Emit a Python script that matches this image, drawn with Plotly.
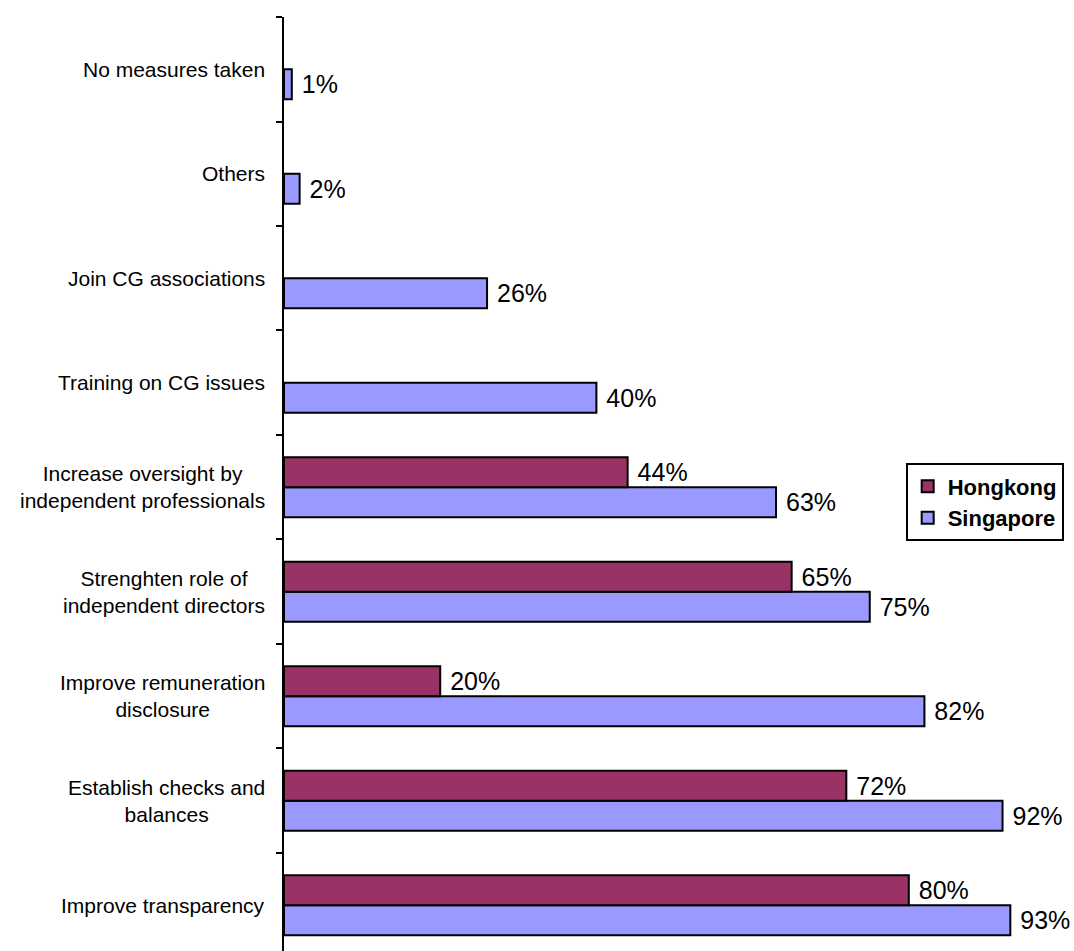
import plotly.graph_objects as go

# Measures taken to improve corporate governance (% of respondents)
categories = [
    "Improve transparency",
    "Establish checks and<br>balances",
    "Improve remuneration<br>disclosure",
    "Strenghten role of<br>independent directors",
    "Increase oversight by<br>independent professionals",
    "Training on CG issues",
    "Join CG associations",
    "Others",
    "No measures taken",
]
hongkong = [80, 72, 20, 65, 44, None, None, None, None]
singapore = [93, 92, 82, 75, 63, 40, 26, 2, 1]

FONT = "Arial, 'Liberation Sans', sans-serif"
HK_COLOR = "#993366"
SG_COLOR = "#9999FF"

fig = go.Figure()

# Singapore added first so it sits in the lower slot of each group
fig.add_trace(go.Bar(
    name="Singapore", y=categories, x=singapore, orientation="h",
    marker=dict(color=SG_COLOR, line=dict(color="black", width=2)),
    text=singapore, texttemplate=" %{x}%", textposition="outside",
    textfont=dict(family=FONT, size=25, color="black"),
    cliponaxis=False, constraintext="none", legendrank=2,
))
fig.add_trace(go.Bar(
    name="Hongkong", y=categories, x=hongkong, orientation="h",
    marker=dict(color=HK_COLOR, line=dict(color="black", width=2)),
    text=hongkong, texttemplate=" %{x}%", textposition="outside",
    textfont=dict(family=FONT, size=25, color="black"),
    cliponaxis=False, constraintext="none", legendrank=1,
))

# Category labels, centred line by line, to the left of the axis
for cat in categories:
    fig.add_annotation(
        x=0, xref="paper", y=cat, yref="y", text=cat,
        xanchor="right", yanchor="middle", align="center",
        xshift=-17, showarrow=False,
        font=dict(family=FONT, size=21, color="black"),
    )

fig.update_layout(
    width=1074, height=951,
    margin=dict(l=284, r=9, t=17, b=0),
    paper_bgcolor="white", plot_bgcolor="white",
    barmode="group", bargap=0.426, bargroupgap=0,
    font=dict(family=FONT, color="black"),
    showlegend=True,
    legend=dict(
        x=0.796, y=0.522, xanchor="left", yanchor="top",
        bgcolor="white", bordercolor="black", borderwidth=2,
        font=dict(family=FONT, size=22, color="black", weight="bold"),
        tracegroupgap=0, itemwidth=30,
    ),
    xaxis=dict(
        range=[0, 100], showgrid=False, zeroline=False,
        showline=False, showticklabels=False, ticks="",
    ),
    yaxis=dict(
        type="category", categoryorder="array", categoryarray=categories,
        range=[-0.438, 8.5], showgrid=False, zeroline=False,
        showline=True, linecolor="black", linewidth=2,
        ticks="outside", tickson="boundaries", ticklen=6,
        tickcolor="black", tickwidth=2, showticklabels=False,
    ),
)

fig.write_html("out.html")
